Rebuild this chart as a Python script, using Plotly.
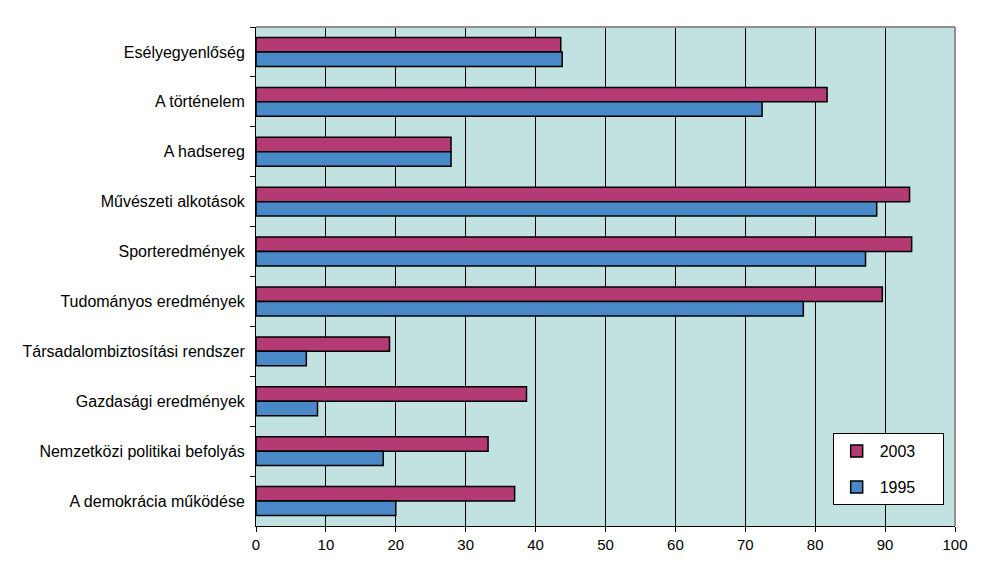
import plotly.graph_objects as go

categories = [
    "Esélyegyenlőség",
    "A történelem",
    "A hadsereg",
    "Művészeti alkotások",
    "Sporteredmények",
    "Tudományos eredmények",
    "Társadalombiztosítási rendszer",
    "Gazdasági eredmények",
    "Nemzetközi politikai befolyás",
    "A demokrácia működése",
]
values_2003 = [43.6, 81.7, 27.9, 93.5, 93.8, 89.6, 19.1, 38.7, 33.2, 37.0]
values_1995 = [43.8, 72.4, 27.9, 88.8, 87.2, 78.3, 7.2, 8.8, 18.2, 20.0]
x_ticks = [0, 10, 20, 30, 40, 50, 60, 70, 80, 90, 100]
series_names = ["2003", "1995"]

fig = go.Figure()
fig.add_trace(go.Bar(
    y=categories, x=values_2003, name=series_names[0] + "\u00a0" * 5, orientation="h",
    marker=dict(color="#B33A72", line=dict(color="black", width=1.5)),
    legendgroup="a",
))
fig.add_trace(go.Bar(
    y=categories, x=values_1995, name=series_names[1] + "\u00a0" * 5, orientation="h",
    marker=dict(color="#4A89C8", line=dict(color="black", width=1.5)),
    legendgroup="b",
))

fig.update_layout(
    width=982, height=576,
    margin=dict(l=248, r=35, t=19, b=58),
    paper_bgcolor="white",
    plot_bgcolor="#C1E2E0",
    barmode="group",
    bargap=0.42,
    bargroupgap=0,
    font=dict(family="Liberation Sans, Arial, sans-serif", size=16, color="black"),
    showlegend=True,
    legend=dict(
        x=0.825, y=0.186, xanchor="left", yanchor="top",
        bgcolor="white", bordercolor="black", borderwidth=1,
        font=dict(size=16),
        tracegroupgap=12,
        traceorder="grouped",
        itemwidth=36,
    ),
    xaxis=dict(
        range=[0, 100], tickvals=x_ticks, ticktext=[str(t) for t in x_ticks],
        showgrid=True, gridcolor="black", gridwidth=1,
        showline=True, linecolor="black", linewidth=1,
        ticks="outside", ticklen=5, tickcolor="black",
        zeroline=False, fixedrange=True,
        tickfont=dict(size=15),
    ),
    yaxis=dict(
        autorange="reversed",
        showline=True, linecolor="black", linewidth=1,
        ticks="outside", ticklen=5, tickcolor="black",
        tickson="boundaries", showgrid=False,
        ticklabelstandoff=7,
        tickfont=dict(size=16),
    ),
    shapes=[
        dict(type="line", xref="paper", yref="paper", x0=0, x1=1, y0=1, y1=1,
             line=dict(color="#909090", width=2)),
        dict(type="line", xref="paper", yref="paper", x0=1, x1=1, y0=0, y1=1,
             line=dict(color="#909090", width=2)),
    ],
)

fig.write_html("out.html")
